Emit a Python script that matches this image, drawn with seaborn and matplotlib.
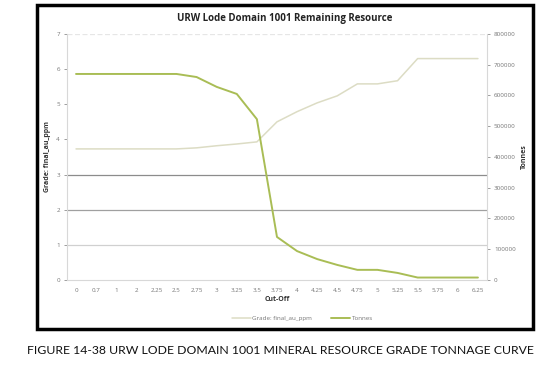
"""Grade-tonnage curve for URW Lode Domain 1001."""

import matplotlib

matplotlib.use("Agg")
import matplotlib.pyplot as plt
import pandas as pd
import seaborn as sns
from matplotlib.lines import Line2D
from matplotlib.patches import Rectangle

cutoffs = ["0", "0.7", "1", "2", "2.25", "2.5", "2.75", "3", "3.25", "3.5", "3.75",
           "4", "4.25", "4.5", "4.75", "5", "5.25", "5.5", "5.75", "6", "6.25"]
grade = [3.73, 3.73, 3.73, 3.73, 3.73, 3.73, 3.76, 3.82, 3.87, 3.93, 4.50,
         4.79, 5.04, 5.24, 5.58, 5.58, 5.67, 6.30, 6.30, 6.30, 6.30]
tonnes = [670000, 670000, 670000, 670000, 670000, 670000, 660000, 628000, 605000, 523000, 140000,
          94000, 68000, 49000, 33000, 33000, 23000, 8000, 8000, 8000, 8000]

grade_ticks = [0, 1, 2, 3, 4, 5, 6, 7]
tonnes_ticks = [0, 100000, 200000, 300000, 400000, 500000, 600000, 700000, 800000]

GRADE_COLOR = "#dcdcc4"
TONNES_COLOR = "#a9bd55"
TICK_COLOR = "#777777"

df = pd.DataFrame({"cutoff": cutoffs, "grade": grade, "tonnes": tonnes})
df["pos"] = range(len(df))

sns.set_style("white")
plt.rcParams["font.family"] = ["Open Sans", "DejaVu Sans"]

fig = plt.figure(figsize=(5.6, 3.69), dpi=100)
ax = fig.add_axes([0.1196, 0.2412, 0.75, 0.6667])
ax2 = ax.twinx()

sns.lineplot(data=df, x="pos", y="grade", ax=ax, color=GRADE_COLOR, lw=1.1, sort=False)
sns.lineplot(data=df, x="pos", y="tonnes", ax=ax2, color=TONNES_COLOR, lw=1.4, sort=False)

# gridlines as they show in the source image
ax.axhline(3, color="#8c8c8c", lw=0.9, zorder=0)
ax.axhline(2, color="#a0a0a0", lw=0.9, zorder=0)
ax.axhline(1, color="#d0d0d0", lw=0.9, zorder=0)
ax.axhline(7, color="#e6e6e6", lw=0.9, ls=(0, (4, 2)), zorder=0)

ax.set_xlim(-0.45, len(cutoffs) - 0.55)
ax.set_ylim(0, 7)
ax2.set_ylim(0, 800000)
ax.set_xticks(df["pos"])
ax.set_xticklabels(cutoffs)
ax.set_yticks(grade_ticks)
ax2.set_yticks(tonnes_ticks)
ax2.set_yticklabels([str(t) for t in tonnes_ticks])

for a in (ax, ax2):
    for side in ("left", "right", "bottom", "top"):
        a.spines[side].set_visible(False)
    a.tick_params(labelsize=4.5, colors=TICK_COLOR, length=2, width=0.5, pad=3)
ax.spines["left"].set_visible(True)
ax.spines["left"].set_color("#d8d8d8")
ax.spines["bottom"].set_visible(True)
ax.spines["bottom"].set_color("#d8d8d8")
ax2.spines["right"].set_visible(True)
ax2.spines["right"].set_color("#d8d8d8")
ax.tick_params(axis="x", length=0, pad=6)

ax.set_xlabel("Cut-Off", fontsize=5, fontweight="bold", color="#333333", labelpad=2)
ax.set_ylabel("Grade: final_au_ppm", fontsize=5, fontweight="bold", color="#333333", labelpad=4)
ax2.set_ylabel("Tonnes", fontsize=5, fontweight="bold", color="#333333", labelpad=4)

fig.text(0.509, 0.951, "URW Lode Domain 1001 Remaining Resource", ha="center", va="center",
         fontsize=7.0, fontweight="bold", color="#222222")

handles = [Line2D([], [], color=GRADE_COLOR, lw=1.1), Line2D([], [], color=TONNES_COLOR, lw=1.4)]
fig.legend(handles, ["Grade: final_au_ppm", "Tonnes"], loc="center", bbox_to_anchor=(0.54, 0.138),
           ncol=2, frameon=False, fontsize=4.5, handlelength=3, handletextpad=0.3, columnspacing=3,
           labelcolor=TICK_COLOR)

fig.patches.append(Rectangle((0.066, 0.108), 0.886, 0.878, transform=fig.transFigure,
                             fill=False, ec="black", lw=2.5))

fig.text(0.5, 0.049, "FIGURE 14-38 URW LODE DOMAIN 1001 MINERAL RESOURCE GRADE TONNAGE CURVE",
         ha="center", va="center", fontsize=8.8, family="Lato", color="#111111")

fig.savefig("out.png", dpi=100)
